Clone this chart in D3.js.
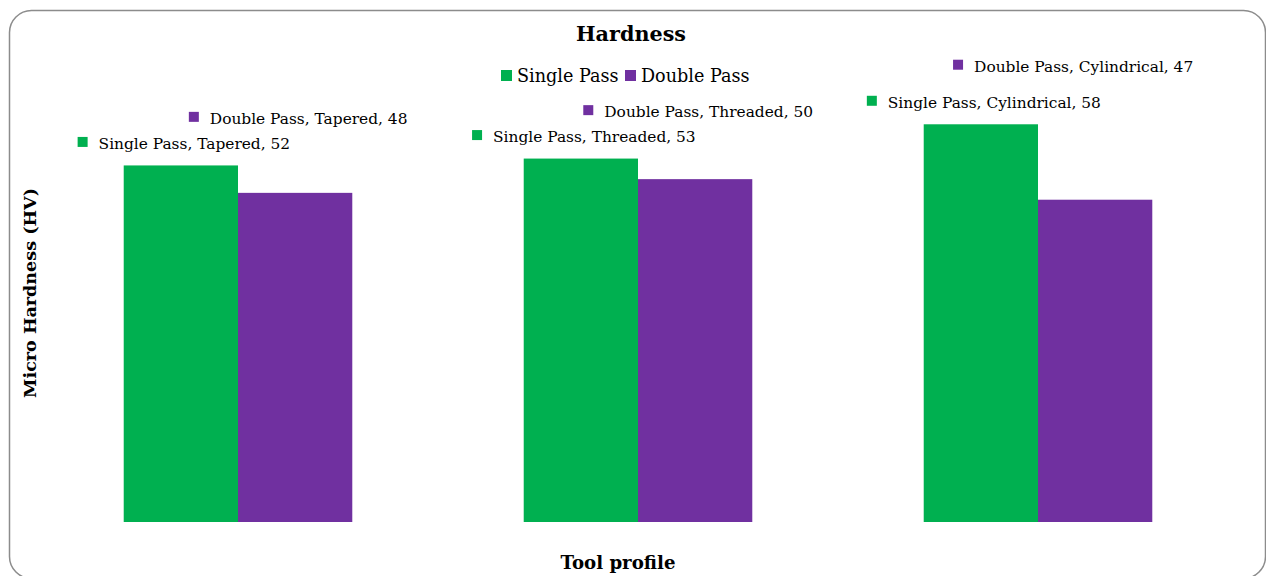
<!DOCTYPE html>
<html>
<head>
<meta charset="utf-8">
<script src="https://cdn.jsdelivr.net/npm/d3@7"></script>
<style>
  html, body { margin: 0; padding: 0; background: #fff; }
  svg { display: block; }
  text { font-family: "DejaVu Serif", "Liberation Serif", serif; fill: #000; }
</style>
</head>
<body>
<svg id="chart" width="1266" height="576"></svg>
<script>
// ---- data ----
const categories = ["Tapered", "Threaded", "Cylindrical"];
const seriesNames = ["Single Pass", "Double Pass"];
const singlePass = [52, 53, 58];
const doublePass = [48, 50, 47];
const seriesColors = ["#00B050", "#7030A0"];
// data-label offsets relative to each bar (label placement as in the reference)
const labelOffsets = [
  [16.5, 16.5, 16.5],   // Single Pass: px above bar top
  [69, 62, 128]         // Double Pass
];
const labelShiftX = [
  [3, 3, 3],
  [3, 3, -22]
];

const seriesValues = [singlePass, doublePass];

const svg = d3.select("#chart");

// scale a text's font-size so it spans a target width
function fitWidth(sel, target) {
  const base = 16;
  sel.attr("font-size", base);
  const w = sel.node().getComputedTextLength();
  sel.attr("font-size", base * target / w);
  return sel;
}

// chart border (rounded)
svg.append("rect")
  .attr("x", 9.5).attr("y", 10.5)
  .attr("width", 1256).attr("height", 568)
  .attr("rx", 22).attr("ry", 22)
  .attr("fill", "#fff")
  .attr("stroke", "#8c8c8c").attr("stroke-width", 1.5);

const plot = { left: 38, right: 1238, top: 42, bottom: 522 };

const x0 = d3.scaleBand().domain(categories).range([plot.left, plot.right]).padding(0);
const x1 = d3.scaleBand().domain(seriesNames).range([0, x0.bandwidth()])
  .paddingInner(0).paddingOuter(0.75);
const y = d3.scaleLinear().domain([0, 70]).range([plot.bottom, plot.top]);

const rows = [];
seriesNames.forEach((s, si) => {
  categories.forEach((c, ci) => {
    rows.push({ s, si, c, ci, v: seriesValues[si][ci] });
  });
});

// bars
svg.append("g").selectAll("rect").data(rows).join("rect")
  .attr("x", d => x0(d.c) + x1(d.s))
  .attr("y", d => y(d.v))
  .attr("width", x1.bandwidth())
  .attr("height", d => y(0) - y(d.v))
  .attr("fill", d => seriesColors[d.si]);

// data labels with legend keys
const lblSize = 15.4;
const lg = svg.append("g");
rows.forEach(d => {
  const cx = x0(d.c) + x1(d.s) + x1.bandwidth() / 2 + labelShiftX[d.si][d.ci];
  const by = y(d.v) - labelOffsets[d.si][d.ci];
  const g = lg.append("g");
  const t = g.append("text")
    .attr("font-size", lblSize)
    .attr("y", by)
    .text(`${d.s}, ${d.c}, ${d.v}`);
  const tw = t.node().getComputedTextLength();
  const keyW = 10, gap = 11;
  const total = keyW + gap + tw;
  const sx = cx - total / 2;
  g.append("rect")
    .attr("x", sx).attr("y", by - 12)
    .attr("width", keyW).attr("height", 10)
    .attr("fill", seriesColors[d.si]);
  t.attr("x", sx + keyW + gap);
});

// title
fitWidth(svg.append("text")
  .attr("x", 631).attr("y", 41)
  .attr("text-anchor", "middle")
  .attr("font-weight", "bold")
  .text("Hardness"), 110);

// legend
const legStarts = [501, 625];
seriesNames.forEach((s, i) => {
  svg.append("rect").attr("x", legStarts[i]).attr("y", 70).attr("width", 11).attr("height", 11)
    .attr("fill", seriesColors[i]);
  svg.append("text").attr("x", legStarts[i] + 16).attr("y", 82)
    .attr("font-size", 17.6).text(s);
});

// axis titles
fitWidth(svg.append("text")
  .attr("transform", "translate(36,293) rotate(-90)")
  .attr("text-anchor", "middle")
  .attr("font-weight", "bold")
  .text("Micro Hardness (HV)"), 210);

fitWidth(svg.append("text")
  .attr("x", 618).attr("y", 569)
  .attr("text-anchor", "middle")
  .attr("font-weight", "bold")
  .text("Tool profile"), 115);
</script>
</body>
</html>
